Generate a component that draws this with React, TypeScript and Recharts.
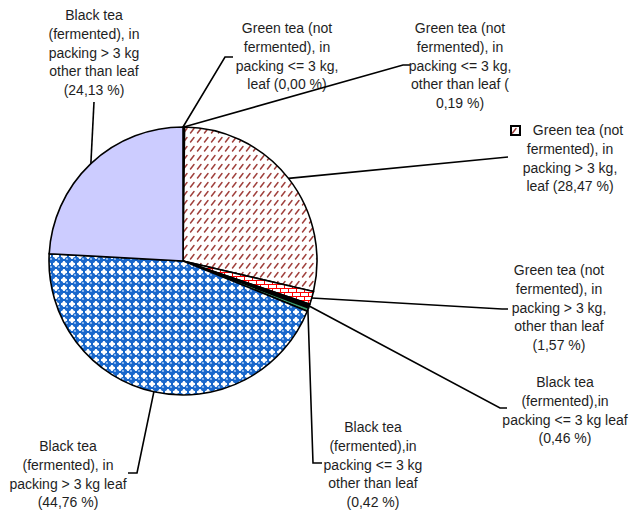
import * as React from 'react';
import { PieChart, Pie, Cell } from 'recharts';

// tea import shares, clockwise from 12 o'clock
const categories = [
  'Green tea (not fermented), in packing <= 3 kg, leaf',
  'Green tea (not fermented), in packing <= 3 kg, other than leaf',
  'Green tea (not fermented), in packing > 3 kg, leaf',
  'Green tea (not fermented), in packing > 3 kg, other than leaf',
  'Black tea (fermented),in packing <= 3 kg leaf',
  'Black tea (fermented),in packing <= 3 kg other than leaf',
  'Black tea (fermented), in packing > 3 kg leaf',
  'Black tea (fermented), in packing > 3 kg other than leaf'
];
const shares = [0.0, 0.19, 28.47, 1.57, 0.46, 0.42, 44.76, 24.13];

// label text, {v} is replaced by the share
const labelLines = [
  ['Green tea (not', 'fermented), in', 'packing <= 3 kg,', 'leaf ({v} %)'],
  ['Green tea (not', 'fermented), in', 'packing <= 3 kg,', 'other than leaf (', '{v} %)'],
  ['Green tea (not', 'fermented), in', 'packing > 3 kg,', 'leaf ({v} %)'],
  ['Green tea (not', 'fermented), in', 'packing > 3 kg,', 'other than leaf', '({v} %)'],
  ['Black tea', '(fermented),in', 'packing <= 3 kg leaf', '({v} %)'],
  ['Black tea', '(fermented),in', 'packing <= 3 kg', 'other than leaf', '({v} %)'],
  ['Black tea', '(fermented), in', 'packing > 3 kg leaf', '({v} %)'],
  ['Black tea', '(fermented), in', 'packing > 3 kg', 'other than leaf', '({v} %)']
];

const fills = [
  '#000000',
  '#000000',
  'url(#dashes)',
  'url(#bricks)',
  '#000000',
  '#3c9a6c',
  'url(#bubbles)',
  '#ccccff'
];

// where each label sits: text centre / first line, elbow, end of the short tick
const labelSpots: Array<{ tx: number; ty: number; ex: number; ey: number; hx?: number; key?: boolean }> = [
  { tx: 287, ty: 28, ex: 225, ey: 57, hx: 233 },
  { tx: 460, ty: 28, ex: 403, ey: 65, hx: 410 },
  { tx: 570, ty: 130, ex: 508, ey: 157, key: true },
  { tx: 559, ty: 270, ex: 502, ey: 309, hx: 508 },
  { tx: 565, ty: 382, ex: 500, ey: 408, hx: 507 },
  { tx: 373, ty: 427, ex: 313, ey: 463, hx: 322 },
  { tx: 68, ty: 446, ex: 137, ey: 473, hx: 128 },
  { tx: 94, ty: 15, ex: 94, ey: 102 }
];

const RAD = Math.PI / 180;
const LINE = 18.8;
const FONT = '"Liberation Sans", Arial, sans-serif';

const data = categories.map((name, i) => ({ name, value: shares[i] }));

const fmt = (v: number) => v.toFixed(2).replace('.', ',');

function renderLabel(props: any) {
  const { cx, cy, midAngle, outerRadius, index, value } = props;
  const s = labelSpots[index];
  const sx = cx + outerRadius * Math.cos(-midAngle * RAD);
  const sy = cy + outerRadius * Math.sin(-midAngle * RAD);
  const pts = [`${sx},${sy}`, `${s.ex},${s.ey}`];
  if (s.hx !== undefined) pts.push(`${s.hx},${s.ey}`);

  return (
    <g key={`lbl-${index}`}>
      <polyline points={pts.join(' ')} fill="none" stroke="#000" strokeWidth={1.6} />
      {s.key && (
        <rect x={511} y={126} width={9} height={9} fill="url(#dashes)" stroke="#000" strokeWidth={2} />
      )}
      <text textAnchor="middle" fontSize={14} fontFamily={FONT} fill="#1e1e1e">
        {labelLines[index].map((line, i) => (
          <tspan key={i} x={s.key && i === 0 ? s.tx + 8 : s.tx} y={s.ty + i * LINE + 5}>
            {line.replace('{v}', fmt(value))}
          </tspan>
        ))}
      </text>
    </g>
  );
}

export default function App() {
  return (
    <div style={{ position: 'absolute', left: 0, top: 0, width: 634, height: 513, background: '#fff' }}>
      <PieChart width={634} height={513} margin={{ top: 0, right: 0, bottom: 0, left: 0 }}>
        <defs>
          <pattern id="dashes" width="7" height="9" patternUnits="userSpaceOnUse">
            <rect width="7" height="9" fill="#fff" />
            <line x1="1.5" y1="7" x2="5" y2="2.5" stroke="#a0403c" strokeWidth="1.5" strokeLinecap="round" />
          </pattern>
          <pattern id="bricks" width="8" height="8" patternUnits="userSpaceOnUse">
            <rect width="8" height="8" fill="#fff" />
            <path d="M0 0.5H8M0 4.5H8M0.5 0.5V4.5M4.5 4.5V8" stroke="#ff0000" strokeWidth="1" fill="none" />
          </pattern>
          <pattern id="bubbles" width="8" height="8" patternUnits="userSpaceOnUse">
            <rect width="8" height="8" fill="#fff" />
            <rect x="0" y="3" width="8" height="2" fill="#1565c8" />
            <rect x="3" y="0" width="2" height="8" fill="#1565c8" />
            <circle cx="4" cy="4" r="3.3" fill="#1a68cc" />
            <circle cx="3" cy="3" r="1.1" fill="#9cc4f4" />
          </pattern>
        </defs>
        <Pie
          data={data}
          dataKey="value"
          nameKey="name"
          cx={183}
          cy={261}
          outerRadius={134}
          startAngle={90}
          endAngle={-270}
          stroke="#000"
          strokeWidth={1.6}
          label={renderLabel}
          labelLine={false}
          isAnimationActive={false}
        >
          {data.map((d, i) => (
            <Cell key={d.name} fill={fills[i]} />
          ))}
        </Pie>
      </PieChart>
    </div>
  );
}
